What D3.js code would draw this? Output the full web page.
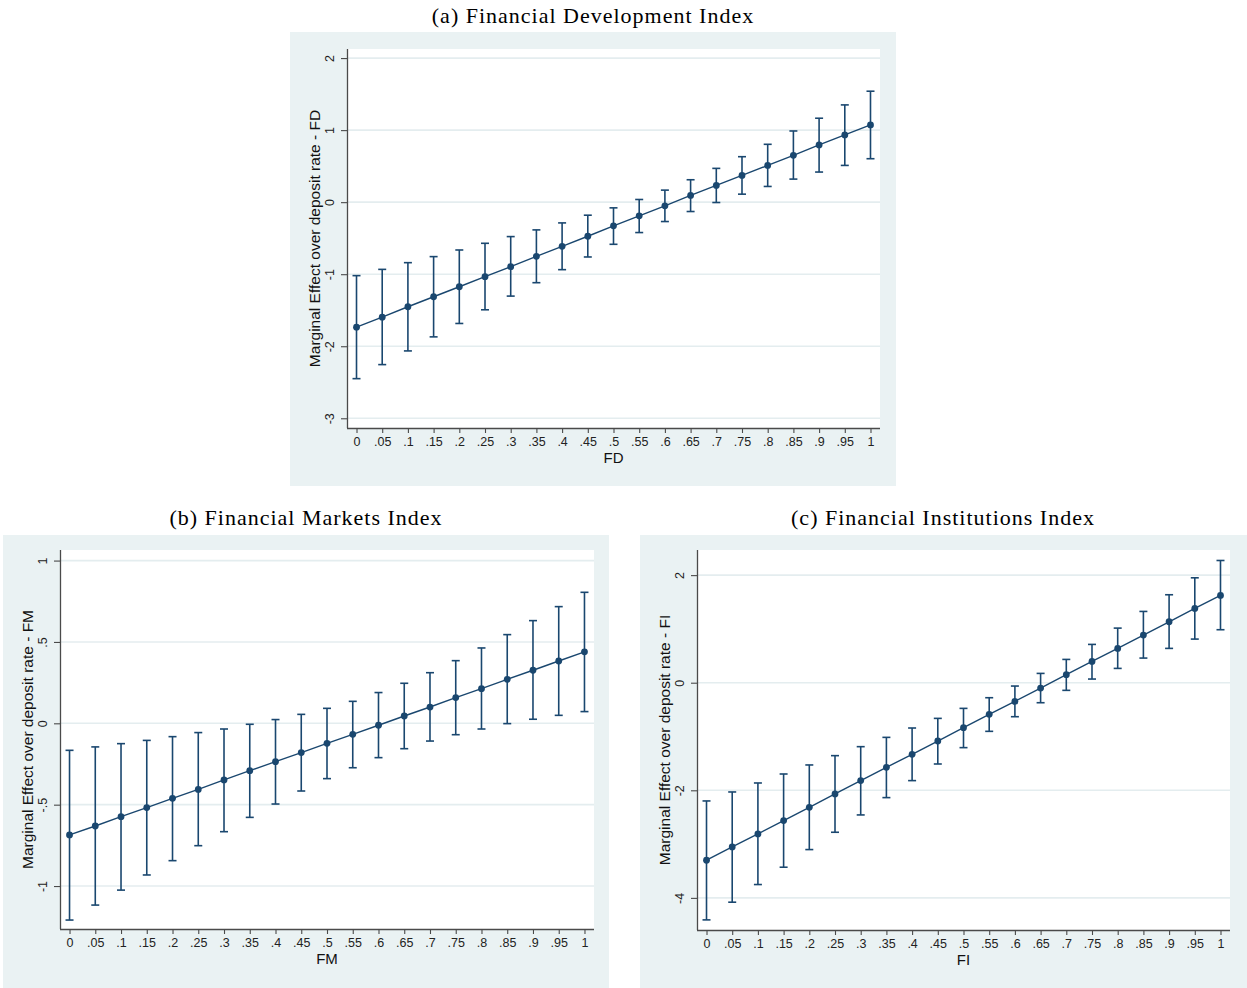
<!DOCTYPE html>
<html>
<head>
<meta charset="utf-8">
<script src="https://cdn.jsdelivr.net/npm/d3@7"></script>
<style>
  body { margin: 0; background: #ffffff; }
  svg { display: block; }
</style>
</head>
<body>
<svg id="chart" width="1247" height="988"></svg>
<script>
// Values of the moderating index at which the marginal effect is evaluated
const xValues = [0, 0.05, 0.1, 0.15, 0.2, 0.25, 0.3, 0.35, 0.4, 0.45, 0.5,
                 0.55, 0.6, 0.65, 0.7, 0.75, 0.8, 0.85, 0.9, 0.95, 1];
const xTickLabels = ["0", ".05", ".1", ".15", ".2", ".25", ".3", ".35", ".4", ".45", ".5",
                     ".55", ".6", ".65", ".7", ".75", ".8", ".85", ".9", ".95", "1"];

// (a) Financial Development Index
const fdEffect = [-1.735, -1.596, -1.452, -1.313, -1.174, -1.035, -0.896, -0.752, -0.613, -0.473, -0.329,
                  -0.190, -0.051, 0.093, 0.232, 0.371, 0.510, 0.650, 0.794, 0.933, 1.072];
const fdUpper  = [-1.020, -0.933, -0.840, -0.756, -0.664, -0.571, -0.478, -0.385, -0.288, -0.181, -0.079,
                  0.037, 0.167, 0.311, 0.469, 0.631, 0.803, 0.988, 1.165, 1.350, 1.540];
const fdLower  = [-2.450, -2.255, -2.065, -1.870, -1.684, -1.494, -1.304, -1.118, -0.937, -0.761, -0.585,
                  -0.422, -0.269, -0.130, -0.005, 0.111, 0.218, 0.320, 0.418, 0.510, 0.603];
const fdYTicks = [2, 1, 0, -1, -2, -3];
const fdYTickLabels = ["2", "1", "0", "-1", "-2", "-3"];

// (b) Financial Markets Index
const fmEffect = [-0.686, -0.631, -0.574, -0.518, -0.461, -0.406, -0.348, -0.291, -0.236, -0.180, -0.123,
                  -0.068, -0.012, 0.045, 0.100, 0.158, 0.213, 0.270, 0.326, 0.383, 0.439];
const fmUpper  = [-0.166, -0.145, -0.125, -0.105, -0.082, -0.057, -0.035, -0.006, 0.023, 0.055, 0.092,
                  0.135, 0.189, 0.246, 0.311, 0.385, 0.463, 0.545, 0.631, 0.717, 0.805];
const fmLower  = [-1.209, -1.117, -1.025, -0.932, -0.844, -0.752, -0.666, -0.578, -0.496, -0.416, -0.340,
                  -0.273, -0.211, -0.156, -0.109, -0.070, -0.035, -0.002, 0.025, 0.049, 0.072];
const fmYTicks = [1, 0.5, 0, -0.5, -1];
const fmYTickLabels = ["1", ".5", "0", "-.5", "-1"];

// (c) Financial Institutions Index
const fiEffect = [-3.300, -3.053, -2.811, -2.563, -2.316, -2.068, -1.820, -1.573, -1.331, -1.084, -0.836,
                  -0.588, -0.347, -0.099, 0.149, 0.396, 0.638, 0.885, 1.133, 1.380, 1.622];
const fiUpper  = [-2.198, -2.031, -1.864, -1.697, -1.529, -1.356, -1.189, -1.016, -0.842, -0.663, -0.477,
                  -0.279, -0.062, 0.173, 0.433, 0.712, 1.015, 1.325, 1.635, 1.950, 2.272];
const fiLower  = [-4.409, -4.080, -3.752, -3.430, -3.102, -2.780, -2.458, -2.136, -1.820, -1.511, -1.207,
                  -0.904, -0.632, -0.372, -0.142, 0.068, 0.266, 0.458, 0.638, 0.811, 0.985];
const fiYTicks = [2, 0, -2, -4];
const fiYTickLabels = ["2", "0", "-2", "-4"];

// Panel layout: outer graph region, inner plot region and axis extents
const panels = [
  { title: "(a) Financial Development Index", titleX: 593, titleY: 23,
    region: { x: 290, y: 32, w: 606, h: 454 },
    plot: { left: 347, top: 49, right: 880, bottom: 428 },
    yDomain: [-3.135, 2.126], xTitle: "FD", yTitle: "Marginal Effect over deposit rate - FD",
    effect: fdEffect, lower: fdLower, upper: fdUpper, yTicks: fdYTicks, yTickLabels: fdYTickLabels },
  { title: "(b) Financial Markets Index", titleX: 306, titleY: 525,
    region: { x: 3, y: 535, w: 606, h: 453 },
    plot: { left: 60, top: 550, right: 594, bottom: 929 },
    yDomain: [-1.264, 1.065], xTitle: "FM", yTitle: "Marginal Effect over deposit rate - FM",
    effect: fmEffect, lower: fmLower, upper: fmUpper, yTicks: fmYTicks, yTickLabels: fmYTickLabels },
  { title: "(c) Financial Institutions Index", titleX: 943, titleY: 525,
    region: { x: 640, y: 535, w: 607, h: 453 },
    plot: { left: 697, top: 550, right: 1230, bottom: 930 },
    yDomain: [-4.597, 2.467], xTitle: "FI", yTitle: "Marginal Effect over deposit rate - FI",
    effect: fiEffect, lower: fiLower, upper: fiUpper, yTicks: fiYTicks, yTickLabels: fiYTickLabels }
];

const xDomain = [-0.0185, 1.0185];
const regionFill = "#eaf2f3";
const gridColor = "#e4edef";
const navy = "#1a476f";
const axisColor = "#4a4a4a";
const sansFont = "'Liberation Sans', Arial, sans-serif";
const serifFont = "'Liberation Serif', 'Times New Roman', serif";

const svg = d3.select("#chart");

panels.forEach(p => {
  const g = svg.append("g");

  // Panel caption above the graph region
  g.append("text")
    .attr("x", p.titleX).attr("y", p.titleY)
    .attr("text-anchor", "middle")
    .attr("font-family", serifFont)
    .attr("font-size", 22)
    .attr("letter-spacing", 1.0)
    .attr("fill", "#000")
    .text(p.title);

  // Graph region and white plot region
  g.append("rect")
    .attr("x", p.region.x).attr("y", p.region.y)
    .attr("width", p.region.w).attr("height", p.region.h)
    .attr("fill", regionFill);
  g.append("rect")
    .attr("x", p.plot.left).attr("y", p.plot.top)
    .attr("width", p.plot.right - p.plot.left).attr("height", p.plot.bottom - p.plot.top)
    .attr("fill", "#ffffff");

  const x = d3.scaleLinear().domain(xDomain).range([p.plot.left, p.plot.right]);
  const y = d3.scaleLinear().domain(p.yDomain).range([p.plot.bottom, p.plot.top]);

  // Horizontal gridlines at each labelled y value
  g.append("g").selectAll("line").data(p.yTicks).join("line")
    .attr("x1", p.plot.left).attr("x2", p.plot.right)
    .attr("y1", d => y(d)).attr("y2", d => y(d))
    .attr("stroke", gridColor).attr("stroke-width", 1.6);

  // Y axis
  const yAxis = d3.axisLeft(y)
    .tickValues(p.yTicks)
    .tickFormat((d, i) => p.yTickLabels[i])
    .tickSize(6).tickSizeOuter(0).tickPadding(4);
  const ya = g.append("g")
    .attr("transform", `translate(${p.plot.left},0)`)
    .call(yAxis);
  ya.select(".domain").attr("stroke", axisColor).attr("stroke-width", 1.3)
    .attr("d", `M0.5,${p.plot.top}V${p.plot.bottom}`);
  ya.selectAll(".tick line").attr("stroke", axisColor).attr("stroke-width", 1.1);
  ya.selectAll(".tick text")
    .attr("font-family", sansFont).attr("font-size", 12.5).attr("fill", "#222")
    .attr("x", null).attr("dy", null)
    .attr("text-anchor", "middle")
    .attr("transform", "translate(-13.5,0) rotate(-90)")
    .attr("y", 0);

  // X axis
  const xAxis = d3.axisBottom(x)
    .tickValues(xValues)
    .tickFormat((d, i) => xTickLabels[i])
    .tickSize(5).tickSizeOuter(0).tickPadding(4);
  const xa = g.append("g")
    .attr("transform", `translate(0,${p.plot.bottom})`)
    .call(xAxis);
  xa.select(".domain").attr("stroke", axisColor).attr("stroke-width", 1.3)
    .attr("d", `M${p.plot.left},0.5H${p.plot.right}`);
  xa.selectAll(".tick line").attr("stroke", axisColor).attr("stroke-width", 1.1);
  xa.selectAll(".tick text")
    .attr("font-family", sansFont).attr("font-size", 12.5).attr("fill", "#222");

  // Axis titles
  g.append("text")
    .attr("x", (p.plot.left + p.plot.right) / 2)
    .attr("y", p.plot.bottom + 35)
    .attr("text-anchor", "middle")
    .attr("font-family", sansFont).attr("font-size", 15)
    .attr("fill", "#111")
    .text(p.xTitle);
  g.append("text")
    .attr("transform", `translate(${p.plot.left - 27},${(p.plot.top + p.plot.bottom) / 2}) rotate(-90)`)
    .attr("text-anchor", "middle")
    .attr("font-family", sansFont).attr("font-size", 15.5)
    .attr("fill", "#111")
    .text(p.yTitle);

  const rows = xValues.map((v, i) => ({ v, e: p.effect[i], lo: p.lower[i], hi: p.upper[i] }));

  // Confidence intervals with caps
  const ci = g.append("g").attr("stroke", navy).attr("stroke-width", 1.6).attr("fill", "none");
  ci.selectAll("line.bar").data(rows).join("line").attr("class", "bar")
    .attr("x1", d => x(d.v)).attr("x2", d => x(d.v))
    .attr("y1", d => y(d.lo)).attr("y2", d => y(d.hi));
  ci.selectAll("line.capHi").data(rows).join("line").attr("class", "capHi")
    .attr("x1", d => x(d.v) - 4).attr("x2", d => x(d.v) + 4)
    .attr("y1", d => y(d.hi)).attr("y2", d => y(d.hi));
  ci.selectAll("line.capLo").data(rows).join("line").attr("class", "capLo")
    .attr("x1", d => x(d.v) - 4).attr("x2", d => x(d.v) + 4)
    .attr("y1", d => y(d.lo)).attr("y2", d => y(d.lo));

  // Marginal effect line and markers
  g.append("path").datum(rows)
    .attr("fill", "none").attr("stroke", navy).attr("stroke-width", 1.4)
    .attr("d", d3.line().x(d => x(d.v)).y(d => y(d.e)));
  g.append("g").selectAll("circle").data(rows).join("circle")
    .attr("cx", d => x(d.v)).attr("cy", d => y(d.e))
    .attr("r", 3.4).attr("fill", navy);
});
</script>
</body>
</html>
